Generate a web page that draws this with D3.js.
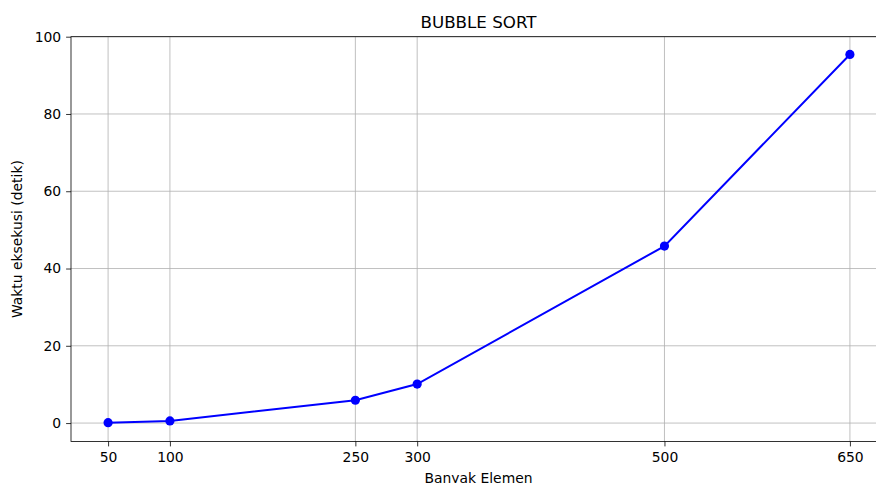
<!DOCTYPE html>
<html><head><meta charset="utf-8">
<script src="https://cdn.jsdelivr.net/npm/d3@7"></script>
<style>
html,body{margin:0;padding:0;background:#fff;overflow:hidden}
svg{display:block;font-family:"DejaVu Sans",sans-serif}
</style></head>
<body>
<svg id="c" width="876" height="483"></svg>
<script>
const elements = [50, 100, 250, 300, 500, 650];
const times = [0.1, 0.55, 5.9, 10.1, 45.8, 95.4];
const xTicks = [50, 100, 250, 300, 500, 650];
const yTicks = [0, 20, 40, 60, 80, 100];
const title = "BUBBLE SORT";
const xLabel = "Banyak Elemen";
const yLabel = "Waktu eksekusi (detik)";

const svg = d3.select("#c");
const L = 71, R = 887, T = 36.7, B = 441.5;
const x = d3.scaleLinear().domain([20, 680]).range([L, R]);
const y = d3.scaleLinear().domain([-4.77, 100.0]).range([B, T]);

// grid
const g = svg.append("g");
g.selectAll(".vx").data(xTicks).join("line")
  .attr("x1", d => x(d)).attr("x2", d => x(d)).attr("y1", T).attr("y2", B)
  .attr("stroke", "#b0b0b0").attr("stroke-width", 0.8);
g.selectAll(".hy").data(yTicks).join("line")
  .attr("x1", L).attr("x2", R).attr("y1", d => y(d)).attr("y2", d => y(d))
  .attr("stroke", "#b0b0b0").attr("stroke-width", 0.8);

// axes
const xAxis = d3.axisBottom(x).tickValues(xTicks).tickSize(4.9).tickPadding(5.5).tickFormat(d3.format("d"));
const yAxis = d3.axisLeft(y).tickValues(yTicks).tickSize(4.9).tickPadding(4.9).tickFormat(d3.format("d"));
const gx = svg.append("g").attr("transform", `translate(0,${B})`).call(xAxis);
const gy = svg.append("g").attr("transform", `translate(${L},0)`).call(yAxis);
[gx, gy].forEach(a => {
  a.select(".domain").remove();
  a.selectAll(".tick line").attr("stroke", "#000").attr("stroke-width", 0.8);
  a.selectAll(".tick text").attr("fill", "#000").style("font-size", "13.9px").style("font-family", "DejaVu Sans");
});

// spines
svg.append("rect").attr("x", L).attr("y", T).attr("width", R - L).attr("height", B - T)
  .attr("fill", "none").attr("stroke", "#000").attr("stroke-width", 0.8);

// line
const line = d3.line().x((d, i) => x(elements[i])).y(d => y(d));
svg.append("path").datum(times).attr("d", line)
  .attr("fill", "none").attr("stroke", "#0000ff").attr("stroke-width", 2);
svg.selectAll(".pt").data(times).join("circle")
  .attr("cx", (d, i) => x(elements[i])).attr("cy", d => y(d)).attr("r", 4.6)
  .attr("fill", "#0000ff");

// texts
svg.append("text").attr("x", (L + R) / 2 - 0.5).attr("y", 28).attr("text-anchor", "middle")
  .style("font-size", "16.7px").attr("fill", "#000").text(title);
svg.append("text").attr("x", (L + R) / 2 - 0.5).attr("y", 482.5).attr("text-anchor", "middle")
  .style("font-size", "13.9px").attr("fill", "#000").text(xLabel);
svg.append("text").attr("transform", `translate(22,${(T + B) / 2}) rotate(-90)`).attr("text-anchor", "middle")
  .style("font-size", "13.9px").attr("fill", "#000").text(yLabel);
</script>
</body></html>
